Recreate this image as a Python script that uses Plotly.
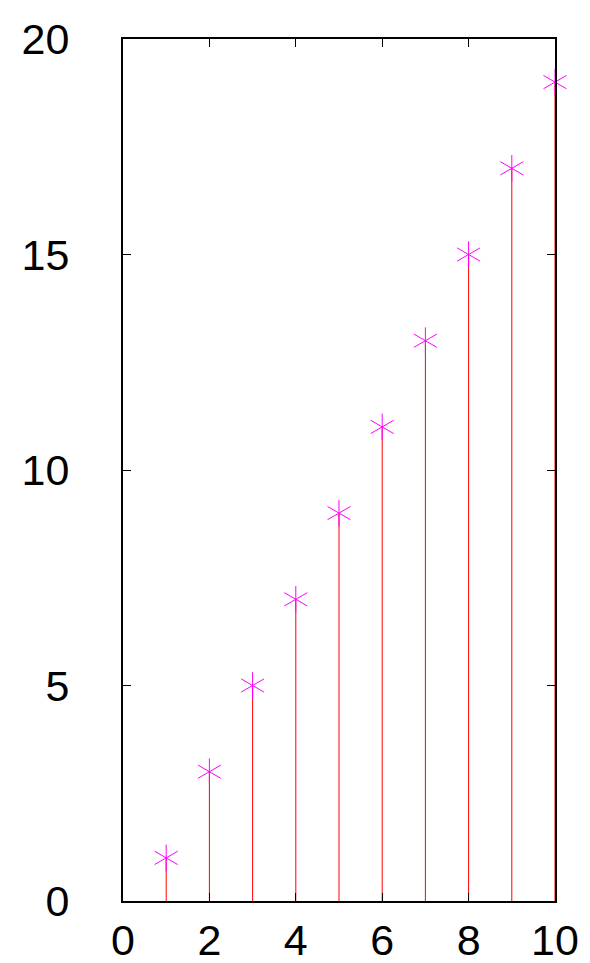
import plotly.graph_objects as go

x_vals = [1, 2, 3, 4, 5, 6, 7, 8, 9, 10]
y_vals = [1, 3, 5, 7, 9, 11, 13, 15, 17, 19]
x_ticks = [0, 2, 4, 6, 8, 10]
y_ticks = [0, 5, 10, 15, 20]

fig = go.Figure()

# impulses (vertical lines from 0 to value)
fig.add_trace(go.Scatter(
    x=x_vals, y=y_vals, mode="markers",
    marker=dict(size=0.1, color="rgba(0,0,0,0)"),
    error_y=dict(type="data", symmetric=False, array=[0] * len(y_vals),
                 arrayminus=y_vals, color="#ff0000", thickness=1, width=0),
    showlegend=False, hoverinfo="skip", cliponaxis=False))

# asterisk points: vertical arm + two diagonal arms at +/-30 degrees
for sym, ang in [("line-ns-open", 0), ("line-ew-open", 30), ("line-ew-open", -30)]:
    fig.add_trace(go.Scatter(
        x=x_vals, y=y_vals, mode="markers", cliponaxis=False,
        marker=dict(symbol=sym, size=19, angle=ang, color="#ff00ff",
                    line=dict(color="#ff00ff", width=1)),
        showlegend=False))

font = dict(family="Liberation Sans", size=43, color="black")

fig.update_layout(
    width=582, height=955,
    margin=dict(l=115, r=35, t=31, b=62, autoexpand=False),
    paper_bgcolor="white", plot_bgcolor="white",
    font=font,
)
fig.update_xaxes(range=[0, 10], tickvals=x_ticks, ticks="inside", ticklen=8,
                 tickwidth=1, tickcolor="black", showline=True, linecolor="black",
                 linewidth=2, mirror="ticks", showgrid=False, zeroline=False,
                 tickfont=font, ticklabelstandoff=0, automargin=False)
fig.update_yaxes(range=[0, 20], tickvals=y_ticks, ticks="inside", ticklen=8,
                 tickwidth=1, tickcolor="black", showline=True, linecolor="black",
                 linewidth=2, mirror="ticks", showgrid=False, zeroline=False,
                 tickfont=font, ticklabelstandoff=43, automargin=False)

fig.write_html("out.html")
